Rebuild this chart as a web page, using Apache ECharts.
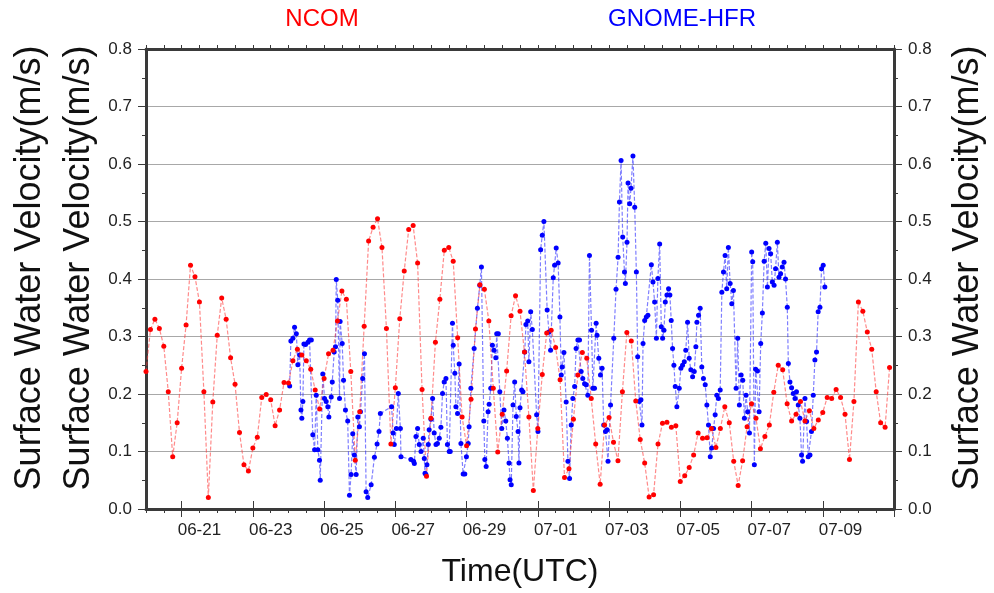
<!DOCTYPE html>
<html>
<head>
<meta charset="utf-8">
<script src="https://cdn.jsdelivr.net/npm/echarts@6.0.0/dist/echarts.min.js"></script>
<style>
  html, body { margin: 0; padding: 0; background: #ffffff; }
  #chart { width: 994px; height: 593px; }
</style>
</head>
<body>
<div id="chart"></div>
<script>
// hours are counted from 06-20 00:00 UTC
var xMin = 0;
var xMax = 504;

// NCOM: one value every 3 hours from 06-20 00:00
var ncomStart = 0;
var ncomStep = 3;
var ncomValues = [
  0.239, 0.312, 0.330, 0.314, 0.283, 0.204, 0.091, 0.150, 0.245, 0.320,
  0.424, 0.404, 0.360, 0.204, 0.020, 0.186, 0.302, 0.367, 0.330, 0.263,
  0.217, 0.133, 0.077, 0.066, 0.106, 0.125, 0.194, 0.199, 0.190, 0.145,
  0.172, 0.220, 0.219, 0.258, 0.278, 0.268, 0.258, 0.243, 0.207, 0.174,
  0.227, 0.270, 0.276, 0.327, 0.379, 0.365, 0.239, 0.085, 0.169, 0.318,
  0.466, 0.490, 0.505, 0.455, 0.314, 0.113, 0.211, 0.331, 0.414, 0.486,
  0.493, 0.428, 0.208, 0.057, 0.158, 0.290, 0.365, 0.450, 0.455, 0.431,
  0.298, 0.160, 0.110, 0.191, 0.313, 0.390, 0.382, 0.327, 0.210, 0.099,
  0.165, 0.240, 0.336, 0.371, 0.344, 0.273, 0.160, 0.032, 0.140, 0.234,
  0.306, 0.311, 0.281, 0.225, 0.055, 0.070, 0.156, 0.233, 0.272, 0.262,
  0.192, 0.113, 0.043, 0.146, 0.159, 0.116, 0.084, 0.204, 0.307, 0.292,
  0.188, 0.121, 0.080, 0.021, 0.025, 0.113, 0.149, 0.151, 0.142, 0.145,
  0.048, 0.058, 0.072, 0.094, 0.132, 0.123, 0.124, 0.140, 0.107, 0.140,
  0.178, 0.150, 0.083, 0.041, 0.084, 0.143, 0.183, 0.158, 0.105, 0.126,
  0.146, 0.203, 0.250, 0.242, 0.183, 0.153, 0.165, 0.187, 0.153, 0.171,
  0.140, 0.155, 0.168, 0.194, 0.192, 0.208, 0.194, 0.165, 0.086, 0.187,
  0.360, 0.344, 0.308, 0.278, 0.204, 0.150, 0.142, 0.246
];

// GNOME-HFR: irregular times (hours) and values
var hfrHours = [
  96.8, 97.6, 99.0, 100.1, 101.3, 102.3, 103.5, 104.4, 105.0, 105.7,
  106.4, 107.5, 109.1, 110.2, 111.4, 112.4, 113.6, 114.7, 115.8, 116.9,
  117.4, 119.1, 120.3, 121.4, 122.5, 123.2, 124.8, 125.5, 126.8, 127.7,
  128.2, 129.2, 130.4, 130.8, 132.2, 133.1, 134.4, 135.9, 137.1, 138.2,
  139.3, 140.4, 141.6, 142.7, 143.8, 144.5, 146.0, 147.2, 148.3, 149.4,
  151.7, 153.9, 155.7, 157.0, 157.9, 165.5, 166.5, 167.3, 168.7, 170.0,
  171.4, 171.8, 178.5, 180.3, 180.8, 181.9, 183.0, 184.1, 185.3, 186.8,
  187.5, 188.0, 188.6, 189.3, 190.2, 190.8, 192.0, 193.1, 194.2, 195.4,
  196.4, 197.6, 198.7, 199.8, 200.9, 202.1, 203.1, 204.3, 205.0, 206.5,
  207.0, 208.1, 208.8, 209.9, 211.0, 212.2, 213.7, 214.8, 215.9, 217.1,
  217.7, 218.9, 221.1, 223.3, 224.9, 226.0, 227.6, 228.3, 229.2, 230.5,
  231.2, 232.3, 233.4, 234.5, 235.7, 236.3, 237.4, 238.4, 239.7, 241.2,
  242.4, 243.5, 244.6, 245.3, 246.1, 247.3, 248.4, 249.5, 250.7, 251.3,
  252.0, 253.1, 254.0, 255.2, 256.0, 257.2, 258.0, 259.2, 260.3, 263.2,
  264.1, 265.9, 267.0, 268.1, 270.3, 271.5, 272.6, 274.4, 275.3, 276.4,
  277.7, 278.9, 279.8, 280.4, 281.6, 283.1, 284.3, 285.4, 286.5, 287.6,
  288.8, 289.8, 291.0, 292.1, 293.2, 294.3, 295.5, 296.6, 297.7, 298.8,
  300.2, 301.1, 302.2, 303.3, 303.9, 305.1, 306.2, 307.3, 308.4, 309.6,
  310.7, 311.3, 313.0, 315.2, 316.7, 318.1, 319.0, 320.1, 321.2, 322.4,
  323.0, 324.1, 324.8, 325.9, 326.8, 328.1, 329.3, 330.4, 331.3, 332.4,
  333.5, 334.2, 334.9, 336.0, 337.1, 338.2, 340.5, 341.6, 342.7, 343.9,
  344.9, 346.1, 347.2, 348.1, 349.0, 349.9, 351.0, 352.1, 353.0, 353.9,
  354.8, 355.7, 356.6, 357.7, 359.3, 360.4, 361.5, 362.7, 363.7, 364.9,
  366.0, 367.1, 368.3, 369.4, 370.5, 371.2, 372.3, 373.4, 374.5, 375.6,
  376.8, 377.9, 379.0, 380.2, 381.2, 382.4, 383.5, 384.6, 385.7, 386.9,
  388.0, 389.1, 390.2, 391.3, 392.4, 393.6, 394.7, 395.8, 397.6, 398.7,
  399.8, 401.0, 402.1, 403.2, 404.3, 405.4, 406.6, 408.1, 408.8, 409.9,
  410.8, 412.0, 413.1, 414.2, 415.3, 416.5, 417.6, 418.7, 419.8, 420.9,
  422.0, 423.2, 424.2, 425.4, 426.5, 427.6, 428.7, 429.9, 430.9, 432.1,
  432.8, 433.9, 435.0, 436.1, 437.3, 438.3, 439.5, 440.6, 441.7, 442.4,
  444.0, 445.1, 446.2, 447.4, 448.4, 449.6, 450.7, 451.8, 452.9, 454.1,
  455.2, 456.3, 457.4
];
var hfrValues = [
  0.214, 0.292, 0.297, 0.316, 0.305, 0.251, 0.268, 0.172, 0.158, 0.187,
  0.287, 0.286, 0.290, 0.294, 0.294, 0.129, 0.103, 0.198, 0.103, 0.085,
  0.050, 0.235, 0.192, 0.187, 0.178, 0.160, 0.195, 0.221, 0.273, 0.282,
  0.399, 0.363, 0.192, 0.326, 0.288, 0.224, 0.172, 0.153, 0.024, 0.060,
  0.131, 0.094, 0.060, 0.160, 0.143, 0.169, 0.227, 0.270, 0.030, 0.020,
  0.042, 0.090, 0.113, 0.135, 0.166, 0.178, 0.132, 0.112, 0.140, 0.201,
  0.140, 0.091, 0.086, 0.083, 0.079, 0.126, 0.140, 0.112, 0.100, 0.123,
  0.088, 0.062, 0.060, 0.077, 0.112, 0.138, 0.156, 0.192, 0.132, 0.112,
  0.114, 0.123, 0.142, 0.201, 0.221, 0.227, 0.112, 0.100, 0.100, 0.323,
  0.285, 0.236, 0.178, 0.166, 0.252, 0.114, 0.061, 0.061, 0.091, 0.114,
  0.143, 0.210, 0.279, 0.349, 0.389, 0.421, 0.153, 0.086, 0.074, 0.169,
  0.182, 0.210, 0.285, 0.276, 0.263, 0.305, 0.305, 0.204, 0.140, 0.172,
  0.153, 0.123, 0.080, 0.051, 0.042, 0.181, 0.221, 0.161, 0.135, 0.080,
  0.176, 0.207, 0.204, 0.273, 0.321, 0.327, 0.256, 0.343, 0.312, 0.164,
  0.135, 0.451, 0.476, 0.500, 0.346, 0.308, 0.276, 0.402, 0.424, 0.454,
  0.428, 0.334, 0.233, 0.247, 0.272, 0.186, 0.083, 0.053, 0.146, 0.192,
  0.213, 0.279, 0.294, 0.294, 0.239, 0.227, 0.218, 0.216, 0.198, 0.441,
  0.311, 0.210, 0.210, 0.323, 0.302, 0.262, 0.233, 0.245, 0.146, 0.135,
  0.138, 0.083, 0.181, 0.297, 0.382, 0.438, 0.534, 0.606, 0.473, 0.412,
  0.392, 0.464, 0.567, 0.531, 0.558, 0.614, 0.525, 0.412, 0.265, 0.187,
  0.190, 0.146, 0.288, 0.328, 0.334, 0.337, 0.425, 0.395, 0.360, 0.297,
  0.401, 0.461, 0.317, 0.297, 0.311, 0.360, 0.372, 0.383, 0.372, 0.328,
  0.279, 0.250, 0.213, 0.178, 0.210, 0.245, 0.250, 0.256, 0.276, 0.325,
  0.262, 0.242, 0.230, 0.239, 0.282, 0.325, 0.337, 0.349, 0.247, 0.227,
  0.216, 0.181, 0.146, 0.091, 0.106, 0.140, 0.164, 0.198, 0.192, 0.207,
  0.377, 0.412, 0.441, 0.383, 0.455, 0.392, 0.357, 0.380, 0.210, 0.297,
  0.181, 0.233, 0.224, 0.158, 0.198, 0.169, 0.132, 0.447, 0.430, 0.077,
  0.243, 0.240, 0.169, 0.288, 0.341, 0.431, 0.462, 0.386, 0.453, 0.444,
  0.395, 0.389, 0.418, 0.464, 0.403, 0.409, 0.421, 0.429, 0.400, 0.351,
  0.253, 0.221, 0.211, 0.201, 0.192, 0.204, 0.181, 0.158, 0.094, 0.083,
  0.192, 0.152, 0.091, 0.094, 0.135, 0.198, 0.259, 0.273, 0.343, 0.351,
  0.418, 0.424, 0.386
];

// axis ticks (hours)
var minorStep = 12;
var majorTicks = [24, 72, 120, 168, 216, 264, 312, 360, 408, 456, 504];
var dateLabels = [36, 84, 132, 180, 228, 276, 324, 372, 420, 468];

var FONT = '"Liberation Sans", Arial, Helvetica, sans-serif';
var AXIS_COLOR = '#3a3a3a';
var NAME_SIZE = 36;

function dateText(h) {
  var d = 20 + Math.floor(h / 24);
  var m = '06';
  if (d > 30) { d = d - 30; m = '07'; }
  return m + '-' + (d < 10 ? '0' + d : d);
}

var ncomData = ncomValues.map(function (v, i) { return [ncomStart + i * ncomStep, v]; });
var hfrData = hfrHours.map(function (h, i) { return [h, hfrValues[i]]; });

var chart = echarts.init(document.getElementById('chart'), null, { renderer: 'canvas' });

function xAxisBase(pos) {
  return {
    type: 'value',
    position: pos,
    min: xMin,
    max: xMax,
    interval: minorStep,
    splitLine: { show: false },
    axisLine: { show: true, onZero: false, lineStyle: { color: AXIS_COLOR, width: 3 } },
    axisTick: { show: true, length: 4, lineStyle: { color: AXIS_COLOR, width: 1 } },
    axisLabel: { show: false }
  };
}

function xAxisMajor(pos) {
  return {
    type: 'value',
    position: pos,
    min: xMin,
    max: xMax,
    interval: minorStep,
    splitLine: { show: false },
    axisLine: { show: false },
    axisTick: { show: true, length: 8, customValues: majorTicks, lineStyle: { color: AXIS_COLOR, width: 1 } },
    axisLabel: { show: false }
  };
}

var bottomAxis = xAxisBase('bottom');
bottomAxis.axisLabel = {
  show: true,
  customValues: dateLabels,
  formatter: dateText,
  fontFamily: FONT,
  fontSize: 17,
  color: '#222',
  margin: 13
};
bottomAxis.name = 'Time(UTC)';
bottomAxis.nameLocation = 'middle';
bottomAxis.nameGap = 47;
bottomAxis.nameTextStyle = { fontFamily: FONT, fontSize: 32, color: '#111' };

// y axis names sit a little above the middle of the axis
var nameStyle = { fontFamily: FONT, fontSize: NAME_SIZE, color: '#111', padding: [0, 0, 0, 22] };

function yAxisBase(pos, name, gap) {
  return {
    type: 'value',
    position: pos,
    min: 0,
    max: 0.8,
    interval: 0.1,
    name: name,
    nameLocation: 'middle',
    nameGap: gap,
    nameRotate: 90,
    nameTextStyle: nameStyle,
    axisLine: { show: true, onZero: false, lineStyle: { color: AXIS_COLOR, width: 3 } },
    axisTick: { show: true, length: 8, lineStyle: { color: AXIS_COLOR, width: 1 } },
    minorTick: { show: true, splitNumber: 2, length: 4, lineStyle: { color: AXIS_COLOR, width: 1 } },
    axisLabel: {
      show: true,
      formatter: function (v) { return v.toFixed(1); },
      fontFamily: FONT,
      fontSize: 17,
      color: '#222',
      margin: 14
    },
    splitLine: { show: false }
  };
}

var leftAxis = yAxisBase('left', 'Surface Water Velocity(m/s)', 48);
leftAxis.splitLine = { show: true, lineStyle: { color: '#a8a8a8', width: 1 } };
var rightAxis = yAxisBase('right', 'Surface Water Velocity(m/s)', 56);
var leftAxis2 = {
  type: 'value',
  position: 'left',
  min: 0,
  max: 0.8,
  name: 'Surface Water Velocity(m/s)',
  nameLocation: 'middle',
  nameGap: 98,
  nameRotate: 90,
  nameTextStyle: nameStyle,
  axisLine: { show: false },
  axisTick: { show: false },
  axisLabel: { show: false },
  splitLine: { show: false }
};

chart.setOption({
  animation: false,
  backgroundColor: '#ffffff',
  grid: { left: 146, right: 98, top: 49, bottom: 83, containLabel: false },
  graphic: [
    { type: 'text', x: 322, y: 19, style: { text: 'NCOM', fill: '#ff0000', font: '24px ' + FONT, align: 'center', verticalAlign: 'middle' } },
    { type: 'text', x: 682, y: 19, style: { text: 'GNOME-HFR', fill: '#0000ff', font: '24px ' + FONT, align: 'center', verticalAlign: 'middle' } }
  ],
  xAxis: [bottomAxis, xAxisMajor('bottom'), xAxisBase('top'), xAxisMajor('top')],
  yAxis: [leftAxis, rightAxis, leftAxis2],
  series: [
    {
      name: 'GNOME-HFR',
      type: 'line',
      xAxisIndex: 0,
      yAxisIndex: 0,
      data: hfrData,
      symbol: 'circle',
      symbolSize: 5,
      showAllSymbol: true,
      itemStyle: { color: '#0000ff' },
      lineStyle: { color: 'rgba(40,40,255,0.6)', width: 1.2, type: [4, 2] },
      emphasis: { disabled: true }
    },
    {
      name: 'NCOM',
      type: 'line',
      xAxisIndex: 0,
      yAxisIndex: 0,
      data: ncomData,
      symbol: 'circle',
      symbolSize: 5,
      showAllSymbol: true,
      itemStyle: { color: '#ff0000' },
      lineStyle: { color: 'rgba(255,60,60,0.6)', width: 1.2, type: [4, 2] },
      emphasis: { disabled: true }
    }
  ]
});
</script>
</body>
</html>
